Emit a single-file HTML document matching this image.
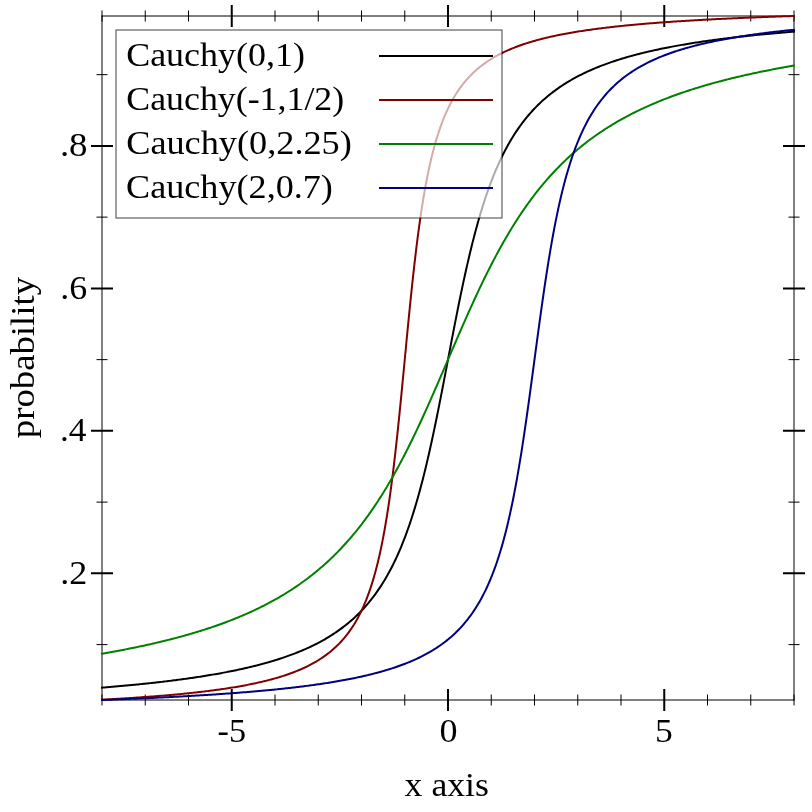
<!DOCTYPE html><html><head><meta charset="utf-8"><style>html,body{margin:0;padding:0;background:#fff}svg{display:block;will-change:transform}text{font-family:"Liberation Serif",serif;fill:#000}</style></head><body>
<svg width="812" height="812" viewBox="0 0 812 812">
<rect width="812" height="812" fill="#fff"/>
<g stroke="#000" stroke-width="1" fill="none" stroke-linecap="square">
<path d="M102.0,700.0 L794.0,700.0 M102.0,16.0 L794.0,16.0 M102.0,16.0 L102.0,700.0 M794.0,16.0 L794.0,700.0"/>
</g>
<path d="M102.00,695.0 L102.00,705.0 M102.00,11.0 L102.00,21.0 M145.25,695.0 L145.25,705.0 M145.25,11.0 L145.25,21.0 M188.50,695.0 L188.50,705.0 M188.50,11.0 L188.50,21.0 M275.00,695.0 L275.00,705.0 M275.00,11.0 L275.00,21.0 M318.25,695.0 L318.25,705.0 M318.25,11.0 L318.25,21.0 M361.50,695.0 L361.50,705.0 M361.50,11.0 L361.50,21.0 M404.75,695.0 L404.75,705.0 M404.75,11.0 L404.75,21.0 M491.25,695.0 L491.25,705.0 M491.25,11.0 L491.25,21.0 M534.50,695.0 L534.50,705.0 M534.50,11.0 L534.50,21.0 M577.75,695.0 L577.75,705.0 M577.75,11.0 L577.75,21.0 M621.00,695.0 L621.00,705.0 M621.00,11.0 L621.00,21.0 M707.50,695.0 L707.50,705.0 M707.50,11.0 L707.50,21.0 M750.75,695.0 L750.75,705.0 M750.75,11.0 L750.75,21.0 M794.00,695.0 L794.00,705.0 M794.00,11.0 L794.00,21.0 M97.0,644.60 L107.0,644.60 M789.0,644.60 L799.0,644.60 M97.0,502.12 L107.0,502.12 M789.0,502.12 L799.0,502.12 M97.0,359.63 L107.0,359.63 M789.0,359.63 L799.0,359.63 M97.0,217.14 L107.0,217.14 M789.0,217.14 L799.0,217.14 M97.0,74.66 L107.0,74.66 M789.0,74.66 L799.0,74.66" stroke="#000" stroke-width="1" stroke-linecap="square" fill="none"/>
<path d="M231.75,690.0 L231.75,710.0 M231.75,6.0 L231.75,26.0 M448.00,690.0 L448.00,710.0 M448.00,6.0 L448.00,26.0 M664.25,690.0 L664.25,710.0 M664.25,6.0 L664.25,26.0 M92.0,573.36 L112.0,573.36 M784.0,573.36 L804.0,573.36 M92.0,430.87 L112.0,430.87 M784.0,430.87 L804.0,430.87 M92.0,288.39 L112.0,288.39 M784.0,288.39 L804.0,288.39 M92.0,145.90 L112.0,145.90 M784.0,145.90 L804.0,145.90" stroke="#000" stroke-width="2" stroke-linecap="square" fill="none"/>
<path d="M102.00,687.65 L103.38,687.54 L104.77,687.42 L106.15,687.31 L107.54,687.19 L108.92,687.08 L110.30,686.96 L111.69,686.84 L113.07,686.73 L114.46,686.61 L115.84,686.49 L117.22,686.36 L118.61,686.24 L119.99,686.12 L121.38,685.99 L122.76,685.87 L124.14,685.74 L125.53,685.61 L126.91,685.48 L128.30,685.36 L129.68,685.22 L131.06,685.09 L132.45,684.96 L133.83,684.82 L135.22,684.69 L136.60,684.55 L137.98,684.41 L139.37,684.28 L140.75,684.13 L142.14,683.99 L143.52,683.85 L144.90,683.71 L146.29,683.56 L147.67,683.41 L149.06,683.27 L150.44,683.12 L151.82,682.97 L153.21,682.81 L154.59,682.66 L155.98,682.50 L157.36,682.35 L158.74,682.19 L160.13,682.03 L161.51,681.87 L162.90,681.71 L164.28,681.54 L165.66,681.38 L167.05,681.21 L168.43,681.04 L169.82,680.87 L171.20,680.70 L172.58,680.53 L173.97,680.35 L175.35,680.17 L176.74,679.99 L178.12,679.81 L179.50,679.63 L180.89,679.45 L182.27,679.26 L183.66,679.07 L185.04,678.88 L186.42,678.69 L187.81,678.49 L189.19,678.30 L190.58,678.10 L191.96,677.90 L193.34,677.70 L194.73,677.49 L196.11,677.29 L197.50,677.08 L198.88,676.87 L200.26,676.65 L201.65,676.44 L203.03,676.22 L204.42,676.00 L205.80,675.78 L207.18,675.55 L208.57,675.32 L209.95,675.09 L211.34,674.86 L212.72,674.62 L214.10,674.38 L215.49,674.14 L216.87,673.90 L218.26,673.65 L219.64,673.40 L221.02,673.15 L222.41,672.89 L223.79,672.63 L225.18,672.37 L226.56,672.11 L227.94,671.84 L229.33,671.57 L230.71,671.29 L232.10,671.01 L233.48,670.73 L234.86,670.45 L236.25,670.16 L237.63,669.87 L239.02,669.57 L240.40,669.27 L241.78,668.97 L243.17,668.66 L244.55,668.35 L245.94,668.03 L247.32,667.71 L248.70,667.39 L250.09,667.06 L251.47,666.72 L252.86,666.39 L254.24,666.05 L255.62,665.70 L257.01,665.35 L258.39,664.99 L259.78,664.63 L261.16,664.26 L262.54,663.89 L263.93,663.51 L265.31,663.13 L266.70,662.74 L268.08,662.35 L269.46,661.95 L270.85,661.55 L272.23,661.13 L273.62,660.72 L275.00,660.29 L276.38,659.86 L277.77,659.43 L279.15,658.98 L280.54,658.53 L281.92,658.08 L283.30,657.61 L284.69,657.14 L286.07,656.66 L287.46,656.17 L288.84,655.68 L290.22,655.17 L291.61,654.66 L292.99,654.14 L294.38,653.61 L295.76,653.08 L297.14,652.53 L298.53,651.98 L299.91,651.41 L301.30,650.83 L302.68,650.25 L304.06,649.65 L305.45,649.05 L306.83,648.43 L308.22,647.80 L309.60,647.16 L310.98,646.51 L312.37,645.85 L313.75,645.17 L315.14,644.48 L316.52,643.78 L317.90,643.06 L319.29,642.34 L320.67,641.59 L322.06,640.83 L323.44,640.06 L324.82,639.27 L326.21,638.47 L327.59,637.65 L328.98,636.81 L330.36,635.95 L331.74,635.08 L333.13,634.19 L334.51,633.28 L335.90,632.35 L337.28,631.40 L338.66,630.43 L340.05,629.43 L341.43,628.42 L342.82,627.38 L344.20,626.32 L345.58,625.23 L346.97,624.12 L348.35,622.99 L349.74,621.82 L351.12,620.63 L352.50,619.41 L353.89,618.16 L355.27,616.88 L356.66,615.57 L358.04,614.22 L359.42,612.84 L360.81,611.43 L362.19,609.97 L363.58,608.49 L364.96,606.96 L366.34,605.39 L367.73,603.78 L369.11,602.12 L370.50,600.42 L371.88,598.67 L373.26,596.88 L374.65,595.03 L376.03,593.13 L377.42,591.18 L378.80,589.17 L380.18,587.10 L381.57,584.98 L382.95,582.78 L384.34,580.52 L385.72,578.20 L387.10,575.80 L388.49,573.33 L389.87,570.78 L391.26,568.16 L392.64,565.45 L394.02,562.66 L395.41,559.77 L396.79,556.80 L398.18,553.73 L399.56,550.56 L400.94,547.29 L402.33,543.92 L403.71,540.43 L405.10,536.83 L406.48,533.11 L407.86,529.28 L409.25,525.31 L410.63,521.22 L412.02,517.00 L413.40,512.65 L414.78,508.15 L416.17,503.52 L417.55,498.74 L418.94,493.81 L420.32,488.74 L421.70,483.51 L423.09,478.14 L424.47,472.62 L425.86,466.94 L427.24,461.12 L428.62,455.15 L430.01,449.03 L431.39,442.78 L432.78,436.38 L434.16,429.86 L435.54,423.22 L436.93,416.47 L438.31,409.60 L439.70,402.65 L441.08,395.61 L442.46,388.50 L443.85,381.34 L445.23,374.13 L446.62,366.89 L448.00,359.63 L449.38,352.38 L450.77,345.14 L452.15,337.93 L453.54,330.76 L454.92,323.65 L456.30,316.61 L457.69,309.66 L459.07,302.80 L460.46,296.04 L461.84,289.40 L463.22,282.88 L464.61,276.49 L465.99,270.23 L467.38,264.12 L468.76,258.15 L470.14,252.32 L471.53,246.65 L472.91,241.12 L474.30,235.75 L475.68,230.53 L477.06,225.45 L478.45,220.53 L479.83,215.75 L481.22,211.11 L482.60,206.62 L483.98,202.26 L485.37,198.04 L486.75,193.95 L488.14,189.99 L489.52,186.15 L490.90,182.43 L492.29,178.83 L493.67,175.35 L495.06,171.97 L496.44,168.70 L497.82,165.53 L499.21,162.46 L500.59,159.49 L501.98,156.61 L503.36,153.81 L504.74,151.10 L506.13,148.48 L507.51,145.93 L508.90,143.46 L510.28,141.06 L511.66,138.74 L513.05,136.48 L514.43,134.29 L515.82,132.16 L517.20,130.09 L518.58,128.08 L519.97,126.13 L521.35,124.23 L522.74,122.38 L524.12,120.59 L525.50,118.84 L526.89,117.14 L528.27,115.49 L529.66,113.87 L531.04,112.31 L532.42,110.78 L533.81,109.29 L535.19,107.84 L536.58,106.42 L537.96,105.04 L539.34,103.70 L540.73,102.38 L542.11,101.10 L543.50,99.85 L544.88,98.63 L546.26,97.44 L547.65,96.28 L549.03,95.14 L550.42,94.03 L551.80,92.94 L553.18,91.88 L554.57,90.84 L555.95,89.83 L557.34,88.84 L558.72,87.86 L560.10,86.91 L561.49,85.98 L562.87,85.07 L564.26,84.18 L565.64,83.31 L567.02,82.45 L568.41,81.62 L569.79,80.80 L571.18,79.99 L572.56,79.20 L573.94,78.43 L575.33,77.67 L576.71,76.93 L578.10,76.20 L579.48,75.48 L580.86,74.78 L582.25,74.09 L583.63,73.42 L585.02,72.75 L586.40,72.10 L587.78,71.46 L589.17,70.83 L590.55,70.22 L591.94,69.61 L593.32,69.01 L594.70,68.43 L596.09,67.85 L597.47,67.29 L598.86,66.73 L600.24,66.19 L601.62,65.65 L603.01,65.12 L604.39,64.60 L605.78,64.09 L607.16,63.58 L608.54,63.09 L609.93,62.60 L611.31,62.12 L612.70,61.65 L614.08,61.19 L615.46,60.73 L616.85,60.28 L618.23,59.84 L619.62,59.40 L621.00,58.97 L622.38,58.55 L623.77,58.13 L625.15,57.72 L626.54,57.31 L627.92,56.91 L629.30,56.52 L630.69,56.13 L632.07,55.75 L633.46,55.37 L634.84,55.00 L636.22,54.63 L637.61,54.27 L638.99,53.92 L640.38,53.56 L641.76,53.22 L643.14,52.88 L644.53,52.54 L645.91,52.20 L647.30,51.88 L648.68,51.55 L650.06,51.23 L651.45,50.92 L652.83,50.60 L654.22,50.30 L655.60,49.99 L656.98,49.69 L658.37,49.40 L659.75,49.10 L661.14,48.82 L662.52,48.53 L663.90,48.25 L665.29,47.97 L666.67,47.70 L668.06,47.42 L669.44,47.16 L670.82,46.89 L672.21,46.63 L673.59,46.37 L674.98,46.11 L676.36,45.86 L677.74,45.61 L679.13,45.36 L680.51,45.12 L681.90,44.88 L683.28,44.64 L684.66,44.40 L686.05,44.17 L687.43,43.94 L688.82,43.71 L690.20,43.49 L691.58,43.26 L692.97,43.04 L694.35,42.83 L695.74,42.61 L697.12,42.40 L698.50,42.19 L699.89,41.98 L701.27,41.77 L702.66,41.57 L704.04,41.36 L705.42,41.16 L706.81,40.96 L708.19,40.77 L709.58,40.57 L710.96,40.38 L712.34,40.19 L713.73,40.00 L715.11,39.82 L716.50,39.63 L717.88,39.45 L719.26,39.27 L720.65,39.09 L722.03,38.91 L723.42,38.74 L724.80,38.56 L726.18,38.39 L727.57,38.22 L728.95,38.05 L730.34,37.89 L731.72,37.72 L733.10,37.56 L734.49,37.39 L735.87,37.23 L737.26,37.07 L738.64,36.91 L740.02,36.76 L741.41,36.60 L742.79,36.45 L744.18,36.30 L745.56,36.15 L746.94,36.00 L748.33,35.85 L749.71,35.70 L751.10,35.56 L752.48,35.41 L753.86,35.27 L755.25,35.13 L756.63,34.99 L758.02,34.85 L759.40,34.71 L760.78,34.57 L762.17,34.44 L763.55,34.30 L764.94,34.17 L766.32,34.04 L767.70,33.91 L769.09,33.78 L770.47,33.65 L771.86,33.52 L773.24,33.39 L774.62,33.27 L776.01,33.14 L777.39,33.02 L778.78,32.90 L780.16,32.78 L781.54,32.66 L782.93,32.54 L784.31,32.42 L785.70,32.30 L787.08,32.18 L788.46,32.07 L789.85,31.95 L791.23,31.84 L792.62,31.73 L794.00,31.61" stroke="#000000" stroke-width="2" fill="none" stroke-linejoin="round" stroke-linecap="square"/>
<path d="M102.00,699.68 L103.38,699.60 L104.77,699.53 L106.15,699.45 L107.54,699.38 L108.92,699.30 L110.30,699.22 L111.69,699.14 L113.07,699.07 L114.46,698.99 L115.84,698.91 L117.22,698.82 L118.61,698.74 L119.99,698.66 L121.38,698.58 L122.76,698.49 L124.14,698.41 L125.53,698.32 L126.91,698.23 L128.30,698.15 L129.68,698.06 L131.06,697.97 L132.45,697.88 L133.83,697.79 L135.22,697.69 L136.60,697.60 L137.98,697.51 L139.37,697.41 L140.75,697.31 L142.14,697.22 L143.52,697.12 L144.90,697.02 L146.29,696.92 L147.67,696.82 L149.06,696.71 L150.44,696.61 L151.82,696.51 L153.21,696.40 L154.59,696.29 L155.98,696.19 L157.36,696.08 L158.74,695.96 L160.13,695.85 L161.51,695.74 L162.90,695.63 L164.28,695.51 L165.66,695.39 L167.05,695.27 L168.43,695.15 L169.82,695.03 L171.20,694.91 L172.58,694.79 L173.97,694.66 L175.35,694.53 L176.74,694.41 L178.12,694.27 L179.50,694.14 L180.89,694.01 L182.27,693.87 L183.66,693.74 L185.04,693.60 L186.42,693.46 L187.81,693.32 L189.19,693.17 L190.58,693.03 L191.96,692.88 L193.34,692.73 L194.73,692.58 L196.11,692.43 L197.50,692.27 L198.88,692.11 L200.26,691.96 L201.65,691.79 L203.03,691.63 L204.42,691.46 L205.80,691.30 L207.18,691.12 L208.57,690.95 L209.95,690.78 L211.34,690.60 L212.72,690.42 L214.10,690.23 L215.49,690.05 L216.87,689.86 L218.26,689.67 L219.64,689.48 L221.02,689.28 L222.41,689.08 L223.79,688.88 L225.18,688.67 L226.56,688.46 L227.94,688.25 L229.33,688.03 L230.71,687.81 L232.10,687.59 L233.48,687.37 L234.86,687.14 L236.25,686.90 L237.63,686.67 L239.02,686.42 L240.40,686.18 L241.78,685.93 L243.17,685.68 L244.55,685.42 L245.94,685.16 L247.32,684.89 L248.70,684.62 L250.09,684.34 L251.47,684.06 L252.86,683.78 L254.24,683.49 L255.62,683.19 L257.01,682.89 L258.39,682.58 L259.78,682.27 L261.16,681.95 L262.54,681.63 L263.93,681.29 L265.31,680.96 L266.70,680.61 L268.08,680.26 L269.46,679.90 L270.85,679.54 L272.23,679.17 L273.62,678.79 L275.00,678.40 L276.38,678.00 L277.77,677.60 L279.15,677.18 L280.54,676.76 L281.92,676.33 L283.30,675.89 L284.69,675.44 L286.07,674.97 L287.46,674.50 L288.84,674.02 L290.22,673.53 L291.61,673.02 L292.99,672.50 L294.38,671.97 L295.76,671.43 L297.14,670.87 L298.53,670.30 L299.91,669.72 L301.30,669.12 L302.68,668.50 L304.06,667.87 L305.45,667.22 L306.83,666.56 L308.22,665.87 L309.60,665.17 L310.98,664.45 L312.37,663.70 L313.75,662.94 L315.14,662.15 L316.52,661.34 L317.90,660.51 L319.29,659.65 L320.67,658.76 L322.06,657.84 L323.44,656.90 L324.82,655.93 L326.21,654.92 L327.59,653.88 L328.98,652.81 L330.36,651.69 L331.74,650.54 L333.13,649.35 L334.51,648.12 L335.90,646.84 L337.28,645.51 L338.66,644.13 L340.05,642.70 L341.43,641.21 L342.82,639.67 L344.20,638.06 L345.58,636.38 L346.97,634.64 L348.35,632.82 L349.74,630.91 L351.12,628.93 L352.50,626.85 L353.89,624.68 L355.27,622.41 L356.66,620.02 L358.04,617.52 L359.42,614.90 L360.81,612.14 L362.19,609.23 L363.58,606.18 L364.96,602.95 L366.34,599.55 L367.73,595.96 L369.11,592.17 L370.50,588.15 L371.88,583.89 L373.26,579.37 L374.65,574.58 L376.03,569.48 L377.42,564.06 L378.80,558.30 L380.18,552.16 L381.57,545.62 L382.95,538.64 L384.34,531.21 L385.72,523.28 L387.10,514.84 L388.49,505.85 L389.87,496.29 L391.26,486.14 L392.64,475.40 L394.02,464.05 L395.41,452.11 L396.79,439.60 L398.18,426.56 L399.56,413.05 L400.94,399.14 L402.33,384.92 L403.71,370.51 L405.10,356.00 L406.48,341.53 L407.86,327.20 L409.25,313.13 L410.63,299.41 L412.02,286.12 L413.40,273.34 L414.78,261.11 L416.17,249.47 L417.55,238.42 L418.94,227.97 L420.32,218.12 L421.70,208.85 L423.09,200.13 L424.47,191.95 L425.86,184.28 L427.24,177.08 L428.62,170.32 L430.01,163.98 L431.39,158.04 L432.78,152.45 L434.16,147.19 L435.54,142.25 L436.93,137.60 L438.31,133.22 L439.70,129.08 L441.08,125.17 L442.46,121.48 L443.85,117.99 L445.23,114.68 L446.62,111.54 L448.00,108.56 L449.38,105.73 L450.77,103.04 L452.15,100.47 L453.54,98.03 L454.92,95.71 L456.30,93.48 L457.69,91.36 L459.07,89.33 L460.46,87.39 L461.84,85.53 L463.22,83.74 L464.61,82.03 L465.99,80.39 L467.38,78.81 L468.76,77.30 L470.14,75.84 L471.53,74.44 L472.91,73.08 L474.30,71.78 L475.68,70.52 L477.06,69.31 L478.45,68.14 L479.83,67.01 L481.22,65.92 L482.60,64.86 L483.98,63.84 L485.37,62.85 L486.75,61.89 L488.14,60.96 L489.52,60.06 L490.90,59.18 L492.29,58.34 L493.67,57.51 L495.06,56.71 L496.44,55.94 L497.82,55.19 L499.21,54.45 L500.59,53.74 L501.98,53.05 L503.36,52.37 L504.74,51.71 L506.13,51.07 L507.51,50.45 L508.90,49.84 L510.28,49.25 L511.66,48.67 L513.05,48.11 L514.43,47.56 L515.82,47.02 L517.20,46.50 L518.58,45.99 L519.97,45.49 L521.35,45.00 L522.74,44.52 L524.12,44.06 L525.50,43.60 L526.89,43.15 L528.27,42.72 L529.66,42.29 L531.04,41.87 L532.42,41.46 L533.81,41.06 L535.19,40.67 L536.58,40.29 L537.96,39.91 L539.34,39.54 L540.73,39.18 L542.11,38.83 L543.50,38.48 L544.88,38.14 L546.26,37.80 L547.65,37.47 L549.03,37.15 L550.42,36.84 L551.80,36.53 L553.18,36.22 L554.57,35.92 L555.95,35.63 L557.34,35.34 L558.72,35.06 L560.10,34.78 L561.49,34.51 L562.87,34.24 L564.26,33.97 L565.64,33.71 L567.02,33.46 L568.41,33.21 L569.79,32.96 L571.18,32.72 L572.56,32.48 L573.94,32.24 L575.33,32.01 L576.71,31.78 L578.10,31.56 L579.48,31.34 L580.86,31.12 L582.25,30.91 L583.63,30.70 L585.02,30.49 L586.40,30.28 L587.78,30.08 L589.17,29.89 L590.55,29.69 L591.94,29.50 L593.32,29.31 L594.70,29.12 L596.09,28.94 L597.47,28.75 L598.86,28.58 L600.24,28.40 L601.62,28.22 L603.01,28.05 L604.39,27.88 L605.78,27.72 L607.16,27.55 L608.54,27.39 L609.93,27.23 L611.31,27.07 L612.70,26.91 L614.08,26.76 L615.46,26.61 L616.85,26.46 L618.23,26.31 L619.62,26.16 L621.00,26.02 L622.38,25.87 L623.77,25.73 L625.15,25.59 L626.54,25.46 L627.92,25.32 L629.30,25.19 L630.69,25.05 L632.07,24.92 L633.46,24.79 L634.84,24.67 L636.22,24.54 L637.61,24.41 L638.99,24.29 L640.38,24.17 L641.76,24.05 L643.14,23.93 L644.53,23.81 L645.91,23.69 L647.30,23.58 L648.68,23.47 L650.06,23.35 L651.45,23.24 L652.83,23.13 L654.22,23.02 L655.60,22.92 L656.98,22.81 L658.37,22.70 L659.75,22.60 L661.14,22.50 L662.52,22.39 L663.90,22.29 L665.29,22.19 L666.67,22.10 L668.06,22.00 L669.44,21.90 L670.82,21.80 L672.21,21.71 L673.59,21.62 L674.98,21.52 L676.36,21.43 L677.74,21.34 L679.13,21.25 L680.51,21.16 L681.90,21.07 L683.28,20.99 L684.66,20.90 L686.05,20.81 L687.43,20.73 L688.82,20.64 L690.20,20.56 L691.58,20.48 L692.97,20.40 L694.35,20.32 L695.74,20.24 L697.12,20.16 L698.50,20.08 L699.89,20.00 L701.27,19.92 L702.66,19.85 L704.04,19.77 L705.42,19.70 L706.81,19.62 L708.19,19.55 L709.58,19.48 L710.96,19.40 L712.34,19.33 L713.73,19.26 L715.11,19.19 L716.50,19.12 L717.88,19.05 L719.26,18.98 L720.65,18.91 L722.03,18.85 L723.42,18.78 L724.80,18.71 L726.18,18.65 L727.57,18.58 L728.95,18.52 L730.34,18.45 L731.72,18.39 L733.10,18.33 L734.49,18.27 L735.87,18.20 L737.26,18.14 L738.64,18.08 L740.02,18.02 L741.41,17.96 L742.79,17.90 L744.18,17.84 L745.56,17.78 L746.94,17.73 L748.33,17.67 L749.71,17.61 L751.10,17.56 L752.48,17.50 L753.86,17.44 L755.25,17.39 L756.63,17.33 L758.02,17.28 L759.40,17.22 L760.78,17.17 L762.17,17.12 L763.55,17.07 L764.94,17.01 L766.32,16.96 L767.70,16.91 L769.09,16.86 L770.47,16.81 L771.86,16.76 L773.24,16.71 L774.62,16.66 L776.01,16.61 L777.39,16.56 L778.78,16.51 L780.16,16.46 L781.54,16.42 L782.93,16.37 L784.31,16.32 L785.70,16.27 L787.08,16.23 L788.46,16.18 L789.85,16.14 L791.23,16.09 L792.62,16.04 L794.00,16.00" stroke="#800000" stroke-width="2" fill="none" stroke-linejoin="round" stroke-linecap="square"/>
<path d="M102.00,653.67 L103.38,653.44 L104.77,653.20 L106.15,652.96 L107.54,652.71 L108.92,652.47 L110.30,652.22 L111.69,651.98 L113.07,651.72 L114.46,651.47 L115.84,651.22 L117.22,650.96 L118.61,650.71 L119.99,650.45 L121.38,650.18 L122.76,649.92 L124.14,649.65 L125.53,649.39 L126.91,649.11 L128.30,648.84 L129.68,648.57 L131.06,648.29 L132.45,648.01 L133.83,647.73 L135.22,647.45 L136.60,647.16 L137.98,646.87 L139.37,646.58 L140.75,646.29 L142.14,646.00 L143.52,645.70 L144.90,645.40 L146.29,645.09 L147.67,644.79 L149.06,644.48 L150.44,644.17 L151.82,643.86 L153.21,643.54 L154.59,643.22 L155.98,642.90 L157.36,642.58 L158.74,642.25 L160.13,641.92 L161.51,641.59 L162.90,641.26 L164.28,640.92 L165.66,640.58 L167.05,640.23 L168.43,639.89 L169.82,639.54 L171.20,639.18 L172.58,638.83 L173.97,638.47 L175.35,638.10 L176.74,637.74 L178.12,637.37 L179.50,637.00 L180.89,636.62 L182.27,636.24 L183.66,635.86 L185.04,635.47 L186.42,635.08 L187.81,634.69 L189.19,634.29 L190.58,633.89 L191.96,633.48 L193.34,633.07 L194.73,632.66 L196.11,632.24 L197.50,631.82 L198.88,631.40 L200.26,630.97 L201.65,630.54 L203.03,630.10 L204.42,629.66 L205.80,629.21 L207.18,628.76 L208.57,628.30 L209.95,627.85 L211.34,627.38 L212.72,626.91 L214.10,626.44 L215.49,625.96 L216.87,625.48 L218.26,624.99 L219.64,624.50 L221.02,624.00 L222.41,623.49 L223.79,622.99 L225.18,622.47 L226.56,621.95 L227.94,621.43 L229.33,620.90 L230.71,620.36 L232.10,619.82 L233.48,619.27 L234.86,618.72 L236.25,618.16 L237.63,617.59 L239.02,617.02 L240.40,616.44 L241.78,615.86 L243.17,615.27 L244.55,614.67 L245.94,614.07 L247.32,613.46 L248.70,612.84 L250.09,612.22 L251.47,611.58 L252.86,610.95 L254.24,610.30 L255.62,609.65 L257.01,608.99 L258.39,608.32 L259.78,607.64 L261.16,606.96 L262.54,606.26 L263.93,605.56 L265.31,604.86 L266.70,604.14 L268.08,603.41 L269.46,602.68 L270.85,601.94 L272.23,601.18 L273.62,600.42 L275.00,599.65 L276.38,598.87 L277.77,598.08 L279.15,597.28 L280.54,596.47 L281.92,595.65 L283.30,594.82 L284.69,593.99 L286.07,593.13 L287.46,592.27 L288.84,591.40 L290.22,590.52 L291.61,589.62 L292.99,588.72 L294.38,587.80 L295.76,586.87 L297.14,585.93 L298.53,584.98 L299.91,584.01 L301.30,583.03 L302.68,582.04 L304.06,581.03 L305.45,580.01 L306.83,578.98 L308.22,577.94 L309.60,576.88 L310.98,575.80 L312.37,574.71 L313.75,573.61 L315.14,572.49 L316.52,571.36 L317.90,570.21 L319.29,569.04 L320.67,567.86 L322.06,566.66 L323.44,565.45 L324.82,564.22 L326.21,562.97 L327.59,561.71 L328.98,560.42 L330.36,559.12 L331.74,557.80 L333.13,556.46 L334.51,555.11 L335.90,553.73 L337.28,552.34 L338.66,550.92 L340.05,549.48 L341.43,548.03 L342.82,546.55 L344.20,545.05 L345.58,543.53 L346.97,541.99 L348.35,540.43 L349.74,538.84 L351.12,537.23 L352.50,535.60 L353.89,533.95 L355.27,532.27 L356.66,530.57 L358.04,528.84 L359.42,527.09 L360.81,525.31 L362.19,523.51 L363.58,521.68 L364.96,519.83 L366.34,517.95 L367.73,516.05 L369.11,514.11 L370.50,512.15 L371.88,510.17 L373.26,508.15 L374.65,506.11 L376.03,504.04 L377.42,501.94 L378.80,499.81 L380.18,497.65 L381.57,495.47 L382.95,493.25 L384.34,491.01 L385.72,488.74 L387.10,486.43 L388.49,484.10 L389.87,481.74 L391.26,479.35 L392.64,476.93 L394.02,474.47 L395.41,471.99 L396.79,469.48 L398.18,466.94 L399.56,464.37 L400.94,461.77 L402.33,459.14 L403.71,456.49 L405.10,453.80 L406.48,451.09 L407.86,448.34 L409.25,445.57 L410.63,442.78 L412.02,439.95 L413.40,437.10 L414.78,434.23 L416.17,431.32 L417.55,428.40 L418.94,425.45 L420.32,422.48 L421.70,419.48 L423.09,416.47 L424.47,413.43 L425.86,410.37 L427.24,407.30 L428.62,404.20 L430.01,401.09 L431.39,397.96 L432.78,394.82 L434.16,391.67 L435.54,388.50 L436.93,385.32 L438.31,382.13 L439.70,378.94 L441.08,375.73 L442.46,372.52 L443.85,369.30 L445.23,366.08 L446.62,362.86 L448.00,359.63 L449.38,356.41 L450.77,353.18 L452.15,349.96 L453.54,346.74 L454.92,343.53 L456.30,340.33 L457.69,337.13 L459.07,333.94 L460.46,330.76 L461.84,327.59 L463.22,324.44 L464.61,321.30 L465.99,318.17 L467.38,315.06 L468.76,311.97 L470.14,308.89 L471.53,305.83 L472.91,302.80 L474.30,299.78 L475.68,296.79 L477.06,293.81 L478.45,290.86 L479.83,287.94 L481.22,285.04 L482.60,282.16 L483.98,279.31 L485.37,276.49 L486.75,273.69 L488.14,270.92 L489.52,268.18 L490.90,265.46 L492.29,262.78 L493.67,260.12 L495.06,257.49 L496.44,254.89 L497.82,252.32 L499.21,249.78 L500.59,247.27 L501.98,244.79 L503.36,242.34 L504.74,239.91 L506.13,237.52 L507.51,235.16 L508.90,232.83 L510.28,230.53 L511.66,228.25 L513.05,226.01 L514.43,223.79 L515.82,221.61 L517.20,219.45 L518.58,217.32 L519.97,215.23 L521.35,213.15 L522.74,211.11 L524.12,209.10 L525.50,207.11 L526.89,205.15 L528.27,203.22 L529.66,201.31 L531.04,199.43 L532.42,197.58 L533.81,195.75 L535.19,193.95 L536.58,192.17 L537.96,190.42 L539.34,188.69 L540.73,186.99 L542.11,185.31 L543.50,183.66 L544.88,182.03 L546.26,180.42 L547.65,178.83 L549.03,177.27 L550.42,175.73 L551.80,174.21 L553.18,172.71 L554.57,171.24 L555.95,169.78 L557.34,168.34 L558.72,166.93 L560.10,165.53 L561.49,164.16 L562.87,162.80 L564.26,161.46 L565.64,160.14 L567.02,158.84 L568.41,157.56 L569.79,156.29 L571.18,155.04 L572.56,153.81 L573.94,152.60 L575.33,151.40 L576.71,150.22 L578.10,149.05 L579.48,147.91 L580.86,146.77 L582.25,145.65 L583.63,144.55 L585.02,143.46 L586.40,142.39 L587.78,141.33 L589.17,140.28 L590.55,139.25 L591.94,138.23 L593.32,137.23 L594.70,136.23 L596.09,135.25 L597.47,134.29 L598.86,133.33 L600.24,132.39 L601.62,131.46 L603.01,130.55 L604.39,129.64 L605.78,128.74 L607.16,127.86 L608.54,126.99 L609.93,126.13 L611.31,125.28 L612.70,124.44 L614.08,123.61 L615.46,122.79 L616.85,121.98 L618.23,121.18 L619.62,120.39 L621.00,119.61 L622.38,118.84 L623.77,118.08 L625.15,117.33 L626.54,116.58 L627.92,115.85 L629.30,115.12 L630.69,114.41 L632.07,113.70 L633.46,113.00 L634.84,112.31 L636.22,111.62 L637.61,110.95 L638.99,110.28 L640.38,109.62 L641.76,108.96 L643.14,108.32 L644.53,107.68 L645.91,107.05 L647.30,106.42 L648.68,105.80 L650.06,105.19 L651.45,104.59 L652.83,103.99 L654.22,103.40 L655.60,102.82 L656.98,102.24 L658.37,101.67 L659.75,101.10 L661.14,100.54 L662.52,99.99 L663.90,99.44 L665.29,98.90 L666.67,98.37 L668.06,97.83 L669.44,97.31 L670.82,96.79 L672.21,96.28 L673.59,95.77 L674.98,95.26 L676.36,94.77 L677.74,94.27 L679.13,93.79 L680.51,93.30 L681.90,92.82 L683.28,92.35 L684.66,91.88 L686.05,91.42 L687.43,90.96 L688.82,90.50 L690.20,90.05 L691.58,89.61 L692.97,89.16 L694.35,88.73 L695.74,88.29 L697.12,87.86 L698.50,87.44 L699.89,87.02 L701.27,86.60 L702.66,86.19 L704.04,85.78 L705.42,85.38 L706.81,84.97 L708.19,84.58 L709.58,84.18 L710.96,83.79 L712.34,83.41 L713.73,83.02 L715.11,82.64 L716.50,82.27 L717.88,81.89 L719.26,81.52 L720.65,81.16 L722.03,80.80 L723.42,80.44 L724.80,80.08 L726.18,79.73 L727.57,79.38 L728.95,79.03 L730.34,78.68 L731.72,78.34 L733.10,78.01 L734.49,77.67 L735.87,77.34 L737.26,77.01 L738.64,76.68 L740.02,76.36 L741.41,76.04 L742.79,75.72 L744.18,75.40 L745.56,75.09 L746.94,74.78 L748.33,74.47 L749.71,74.17 L751.10,73.87 L752.48,73.57 L753.86,73.27 L755.25,72.97 L756.63,72.68 L758.02,72.39 L759.40,72.10 L760.78,71.82 L762.17,71.53 L763.55,71.25 L764.94,70.97 L766.32,70.69 L767.70,70.42 L769.09,70.15 L770.47,69.88 L771.86,69.61 L773.24,69.34 L774.62,69.08 L776.01,68.82 L777.39,68.56 L778.78,68.30 L780.16,68.04 L781.54,67.79 L782.93,67.54 L784.31,67.29 L785.70,67.04 L787.08,66.79 L788.46,66.55 L789.85,66.31 L791.23,66.06 L792.62,65.83 L794.00,65.59" stroke="#008000" stroke-width="2" fill="none" stroke-linejoin="round" stroke-linecap="square"/>
<path d="M102.00,700.00 L103.38,699.95 L104.77,699.90 L106.15,699.85 L107.54,699.80 L108.92,699.74 L110.30,699.69 L111.69,699.64 L113.07,699.59 L114.46,699.53 L115.84,699.48 L117.22,699.42 L118.61,699.37 L119.99,699.31 L121.38,699.26 L122.76,699.20 L124.14,699.15 L125.53,699.09 L126.91,699.03 L128.30,698.98 L129.68,698.92 L131.06,698.86 L132.45,698.80 L133.83,698.75 L135.22,698.69 L136.60,698.63 L137.98,698.57 L139.37,698.51 L140.75,698.45 L142.14,698.38 L143.52,698.32 L144.90,698.26 L146.29,698.20 L147.67,698.14 L149.06,698.07 L150.44,698.01 L151.82,697.94 L153.21,697.88 L154.59,697.81 L155.98,697.75 L157.36,697.68 L158.74,697.62 L160.13,697.55 L161.51,697.48 L162.90,697.41 L164.28,697.34 L165.66,697.28 L167.05,697.21 L168.43,697.14 L169.82,697.07 L171.20,696.99 L172.58,696.92 L173.97,696.85 L175.35,696.78 L176.74,696.70 L178.12,696.63 L179.50,696.56 L180.89,696.48 L182.27,696.40 L183.66,696.33 L185.04,696.25 L186.42,696.17 L187.81,696.10 L189.19,696.02 L190.58,695.94 L191.96,695.86 L193.34,695.78 L194.73,695.70 L196.11,695.61 L197.50,695.53 L198.88,695.45 L200.26,695.36 L201.65,695.28 L203.03,695.19 L204.42,695.11 L205.80,695.02 L207.18,694.93 L208.57,694.84 L209.95,694.76 L211.34,694.67 L212.72,694.57 L214.10,694.48 L215.49,694.39 L216.87,694.30 L218.26,694.20 L219.64,694.11 L221.02,694.01 L222.41,693.92 L223.79,693.82 L225.18,693.72 L226.56,693.62 L227.94,693.52 L229.33,693.42 L230.71,693.32 L232.10,693.22 L233.48,693.12 L234.86,693.01 L236.25,692.91 L237.63,692.80 L239.02,692.69 L240.40,692.59 L241.78,692.48 L243.17,692.37 L244.55,692.26 L245.94,692.14 L247.32,692.03 L248.70,691.91 L250.09,691.80 L251.47,691.68 L252.86,691.56 L254.24,691.45 L255.62,691.33 L257.01,691.20 L258.39,691.08 L259.78,690.96 L261.16,690.83 L262.54,690.71 L263.93,690.58 L265.31,690.45 L266.70,690.32 L268.08,690.19 L269.46,690.06 L270.85,689.92 L272.23,689.79 L273.62,689.65 L275.00,689.51 L276.38,689.37 L277.77,689.23 L279.15,689.09 L280.54,688.94 L281.92,688.80 L283.30,688.65 L284.69,688.50 L286.07,688.35 L287.46,688.20 L288.84,688.04 L290.22,687.89 L291.61,687.73 L292.99,687.57 L294.38,687.41 L295.76,687.24 L297.14,687.08 L298.53,686.91 L299.91,686.74 L301.30,686.57 L302.68,686.40 L304.06,686.22 L305.45,686.05 L306.83,685.87 L308.22,685.69 L309.60,685.50 L310.98,685.32 L312.37,685.13 L313.75,684.94 L315.14,684.75 L316.52,684.55 L317.90,684.35 L319.29,684.15 L320.67,683.95 L322.06,683.75 L323.44,683.54 L324.82,683.33 L326.21,683.12 L327.59,682.90 L328.98,682.68 L330.36,682.46 L331.74,682.24 L333.13,682.01 L334.51,681.78 L335.90,681.54 L337.28,681.31 L338.66,681.07 L340.05,680.82 L341.43,680.58 L342.82,680.32 L344.20,680.07 L345.58,679.81 L346.97,679.55 L348.35,679.29 L349.74,679.02 L351.12,678.74 L352.50,678.47 L353.89,678.19 L355.27,677.90 L356.66,677.61 L358.04,677.32 L359.42,677.02 L360.81,676.71 L362.19,676.41 L363.58,676.09 L364.96,675.78 L366.34,675.45 L367.73,675.12 L369.11,674.79 L370.50,674.45 L371.88,674.11 L373.26,673.76 L374.65,673.40 L376.03,673.04 L377.42,672.67 L378.80,672.30 L380.18,671.92 L381.57,671.53 L382.95,671.13 L384.34,670.73 L385.72,670.32 L387.10,669.91 L388.49,669.48 L389.87,669.05 L391.26,668.61 L392.64,668.17 L394.02,667.71 L395.41,667.25 L396.79,666.77 L398.18,666.29 L399.56,665.80 L400.94,665.30 L402.33,664.78 L403.71,664.26 L405.10,663.73 L406.48,663.19 L407.86,662.63 L409.25,662.07 L410.63,661.49 L412.02,660.90 L413.40,660.29 L414.78,659.68 L416.17,659.05 L417.55,658.40 L418.94,657.74 L420.32,657.07 L421.70,656.38 L423.09,655.68 L424.47,654.96 L425.86,654.22 L427.24,653.46 L428.62,652.69 L430.01,651.89 L431.39,651.08 L432.78,650.25 L434.16,649.39 L435.54,648.52 L436.93,647.62 L438.31,646.70 L439.70,645.75 L441.08,644.78 L442.46,643.78 L443.85,642.75 L445.23,641.70 L446.62,640.61 L448.00,639.50 L449.38,638.35 L450.77,637.17 L452.15,635.95 L453.54,634.70 L454.92,633.41 L456.30,632.08 L457.69,630.71 L459.07,629.29 L460.46,627.83 L461.84,626.32 L463.22,624.76 L464.61,623.15 L465.99,621.48 L467.38,619.76 L468.76,617.98 L470.14,616.13 L471.53,614.22 L472.91,612.24 L474.30,610.18 L475.68,608.05 L477.06,605.84 L478.45,603.54 L479.83,601.16 L481.22,598.67 L482.60,596.09 L483.98,593.41 L485.37,590.61 L486.75,587.70 L488.14,584.67 L489.52,581.50 L490.90,578.20 L492.29,574.75 L493.67,571.15 L495.06,567.39 L496.44,563.46 L497.82,559.36 L499.21,555.06 L500.59,550.56 L501.98,545.86 L503.36,540.93 L504.74,535.78 L506.13,530.38 L507.51,524.74 L508.90,518.83 L510.28,512.65 L511.66,506.18 L513.05,499.43 L514.43,492.38 L515.82,485.02 L517.20,477.36 L518.58,469.39 L519.97,461.12 L521.35,452.54 L522.74,443.68 L524.12,434.53 L525.50,425.13 L526.89,415.49 L528.27,405.64 L529.66,395.61 L531.04,385.44 L532.42,375.16 L533.81,364.81 L535.19,354.45 L536.58,344.11 L537.96,333.83 L539.34,323.65 L540.73,313.62 L542.11,303.77 L543.50,294.13 L544.88,284.73 L546.26,275.59 L547.65,266.72 L549.03,258.15 L550.42,249.87 L551.80,241.90 L553.18,234.24 L554.57,226.89 L555.95,219.83 L557.34,213.08 L558.72,206.62 L560.10,200.44 L561.49,194.53 L562.87,188.88 L564.26,183.48 L565.64,178.33 L567.02,173.40 L568.41,168.70 L569.79,164.20 L571.18,159.91 L572.56,155.80 L573.94,151.87 L575.33,148.11 L576.71,144.51 L578.10,141.06 L579.48,137.76 L580.86,134.60 L582.25,131.56 L583.63,128.65 L585.02,125.85 L586.40,123.17 L587.78,120.59 L589.17,118.11 L590.55,115.72 L591.94,113.42 L593.32,111.21 L594.70,109.08 L596.09,107.02 L597.47,105.04 L598.86,103.13 L600.24,101.28 L601.62,99.50 L603.01,97.78 L604.39,96.11 L605.78,94.50 L607.16,92.94 L608.54,91.43 L609.93,89.97 L611.31,88.56 L612.70,87.18 L614.08,85.85 L615.46,84.56 L616.85,83.31 L618.23,82.09 L619.62,80.91 L621.00,79.76 L622.38,78.65 L623.77,77.56 L625.15,76.51 L626.54,75.48 L627.92,74.48 L629.30,73.51 L630.69,72.57 L632.07,71.64 L633.46,70.74 L634.84,69.87 L636.22,69.01 L637.61,68.18 L638.99,67.37 L640.38,66.57 L641.76,65.80 L643.14,65.04 L644.53,64.31 L645.91,63.58 L647.30,62.88 L648.68,62.19 L650.06,61.52 L651.45,60.86 L652.83,60.22 L654.22,59.59 L655.60,58.97 L656.98,58.37 L658.37,57.78 L659.75,57.20 L661.14,56.63 L662.52,56.08 L663.90,55.53 L665.29,55.00 L666.67,54.48 L668.06,53.97 L669.44,53.46 L670.82,52.97 L672.21,52.49 L673.59,52.02 L674.98,51.55 L676.36,51.10 L677.74,50.65 L679.13,50.21 L680.51,49.78 L681.90,49.35 L683.28,48.94 L684.66,48.53 L686.05,48.13 L687.43,47.73 L688.82,47.35 L690.20,46.97 L691.58,46.59 L692.97,46.22 L694.35,45.86 L695.74,45.51 L697.12,45.16 L698.50,44.81 L699.89,44.47 L701.27,44.14 L702.66,43.81 L704.04,43.49 L705.42,43.17 L706.81,42.86 L708.19,42.55 L709.58,42.25 L710.96,41.95 L712.34,41.65 L713.73,41.36 L715.11,41.08 L716.50,40.80 L717.88,40.52 L719.26,40.25 L720.65,39.98 L722.03,39.71 L723.42,39.45 L724.80,39.19 L726.18,38.94 L727.57,38.69 L728.95,38.44 L730.34,38.20 L731.72,37.96 L733.10,37.72 L734.49,37.49 L735.87,37.26 L737.26,37.03 L738.64,36.80 L740.02,36.58 L741.41,36.36 L742.79,36.15 L744.18,35.93 L745.56,35.72 L746.94,35.52 L748.33,35.31 L749.71,35.11 L751.10,34.91 L752.48,34.71 L753.86,34.52 L755.25,34.32 L756.63,34.13 L758.02,33.94 L759.40,33.76 L760.78,33.58 L762.17,33.39 L763.55,33.22 L764.94,33.04 L766.32,32.86 L767.70,32.69 L769.09,32.52 L770.47,32.35 L771.86,32.18 L773.24,32.02 L774.62,31.86 L776.01,31.69 L777.39,31.54 L778.78,31.38 L780.16,31.22 L781.54,31.07 L782.93,30.91 L784.31,30.76 L785.70,30.61 L787.08,30.47 L788.46,30.32 L789.85,30.18 L791.23,30.03 L792.62,29.89 L794.00,29.75" stroke="#000080" stroke-width="2" fill="none" stroke-linejoin="round" stroke-linecap="square"/>
<rect x="116" y="30" width="386" height="188" fill="#fff" fill-opacity="0.6667" stroke="none"/>
<rect x="116" y="30" width="386" height="188" fill="none" stroke="#000" stroke-opacity="0.75" stroke-width="1"/>
<path d="M379,56 L493,56" stroke="#000000" stroke-width="2" fill="none"/>
<path d="M379,100 L493,100" stroke="#800000" stroke-width="2" fill="none"/>
<path d="M379,144 L493,144" stroke="#008000" stroke-width="2" fill="none"/>
<path d="M379,188 L493,188" stroke="#000080" stroke-width="2" fill="none"/>
<text x="126.16" y="65.70" font-size="33.0" text-anchor="start" textLength="178.76" lengthAdjust="spacingAndGlyphs">Cauchy(0,1)</text>
<text x="126.26" y="109.70" font-size="33.0" text-anchor="start" textLength="217.97" lengthAdjust="spacingAndGlyphs">Cauchy(-1,1/2)</text>
<text x="126.20" y="153.70" font-size="33.0" text-anchor="start" textLength="225.66" lengthAdjust="spacingAndGlyphs">Cauchy(0,2.25)</text>
<text x="126.10" y="197.70" font-size="33.0" text-anchor="start" textLength="206.82" lengthAdjust="spacingAndGlyphs">Cauchy(2,0.7)</text>
<text x="87.56" y="156.20" font-size="33.0" text-anchor="end" textLength="27.64" lengthAdjust="spacingAndGlyphs">.8</text>
<text x="87.14" y="298.69" font-size="33.0" text-anchor="end" textLength="26.92" lengthAdjust="spacingAndGlyphs">.6</text>
<text x="86.44" y="441.17" font-size="33.0" text-anchor="end" textLength="26.54" lengthAdjust="spacingAndGlyphs">.4</text>
<text x="87.23" y="583.66" font-size="33.0" text-anchor="end" textLength="27.08" lengthAdjust="spacingAndGlyphs">.2</text>
<text x="231.81" y="741.70" font-size="33.0" text-anchor="middle" textLength="28.48" lengthAdjust="spacingAndGlyphs">-5</text>
<text x="448.48" y="741.70" font-size="33.0" text-anchor="middle" textLength="18.04" lengthAdjust="spacingAndGlyphs">0</text>
<text x="663.91" y="741.70" font-size="33.0" text-anchor="middle" textLength="17.75" lengthAdjust="spacingAndGlyphs">5</text>
<text x="446.76" y="795.60" font-size="33.0" text-anchor="middle" textLength="84.24" lengthAdjust="spacingAndGlyphs">x axis</text>
<text x="0" y="0" font-size="33.0" text-anchor="middle" transform="translate(34.10,357.56) rotate(-90)" textLength="161.25" lengthAdjust="spacingAndGlyphs">probability</text>
</svg></body></html>
